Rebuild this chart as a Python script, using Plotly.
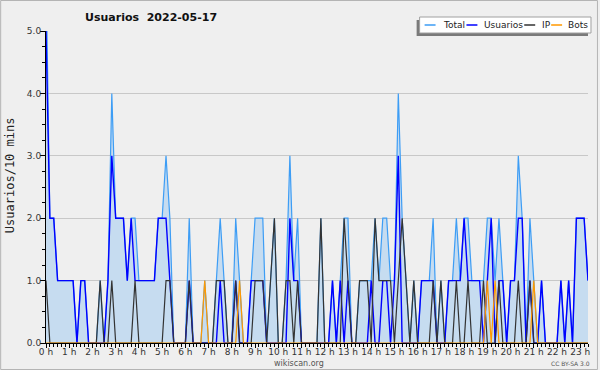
import plotly.graph_objects as go

# 10-minute slots of 2022-05-17 shown so far (0 = 00:00 ... 140 = 23:20)
slots = list(range(141))

usuarios = [5,2,2,1,1,1,1,1,0,1,1,0,
            0,0,0,0,1,3,2,2,2,1,2,1,
            1,1,1,1,1,2,2,2,1,0,0,0,
            0,1,0,0,0,0,0,0,0,1,0,0,
            0,1,0,0,0,1,1,1,1,0,0,0,
            0,0,0,2,1,1,0,0,0,0,0,0,
            0,0,1,0,1,0,1,0,0,0,0,0,
            1,0,0,1,1,0,1,3,0,0,0,0,
            0,1,1,1,1,0,0,0,1,1,1,1,
            2,1,1,1,1,0,1,2,0,1,1,0,
            1,1,2,2,0,1,0,0,1,0,0,0,
            0,1,0,1,0,2,2,2,1]

ip = [1,0,0,0,0,0,0,0,0,0,0,0,
      0,0,1,0,0,1,0,0,0,0,0,1,
      0,0,0,0,0,0,0,1,1,0,0,0,
      0,1,0,0,0,0,0,0,1,1,1,0,
      0,1,0,0,0,0,1,1,1,0,1,2,
      0,0,1,1,0,1,0,0,0,0,0,2,
      0,0,0,0,0,2,1,0,0,1,1,1,
      0,2,1,1,1,1,0,1,2,1,0,1,
      0,0,0,0,1,0,1,0,0,0,1,0,
      0,1,0,0,0,1,0,0,0,1,0,0,
      0,0,1,0,0,1,0,0,0,0,0,0,
      0,0,0,0,0,0,0,0,0]

bots = [0,0,0,0,0,0,0,0,0,0,0,0,
        0,0,0,0,0,0,0,0,0,0,0,0,
        0,0,0,0,0,0,0,0,0,0,0,0,
        0,0,0,0,0,1,0,0,0,0,0,0,
        0,0,1,0,0,0,0,0,0,0,0,0,
        0,0,0,0,0,0,0,0,0,0,0,0,
        0,0,0,0,0,0,0,0,0,0,0,0,
        0,0,0,0,0,0,0,0,0,0,0,0,
        0,0,0,0,0,0,0,0,0,0,0,0,
        0,0,0,0,0,0,1,0,1,0,0,0,
        0,0,0,0,0,0,1,0,0,0,0,0,
        0,0,0,0,0,0,0,0,0]

total = [6,2,2,1,1,1,1,1,0,1,1,0,
         0,0,1,0,1,4,2,2,2,1,2,2,
         1,1,1,1,1,2,2,3,2,0,0,0,
         0,2,0,0,0,1,0,0,1,2,1,0,
         0,2,1,0,0,1,2,2,2,0,1,2,
         0,0,1,3,1,2,0,0,0,0,0,2,
         0,0,1,0,1,2,2,0,0,1,1,1,
         1,2,1,2,2,1,1,4,2,1,0,1,
         0,1,1,1,2,0,1,0,1,1,2,1,
         2,2,1,1,1,1,2,2,1,2,1,0,
         1,1,3,2,0,2,1,0,1,0,0,0,
         0,1,0,1,0,2,2,2,1]

hour_ticks = [0,6,12,18,24,30,36,42,48,54,60,66,72,78,84,90,96,102,108,114,120,126,132,138]
hour_labels = ["0 h","1 h","2 h","3 h","4 h","5 h","6 h","7 h","8 h","9 h","10 h","11 h",
               "12 h","13 h","14 h","15 h","16 h","17 h","18 h","19 h","20 h","21 h","22 h","23 h"]
y_ticks = [0,1,2,3,4,5]
y_labels = ["0.0","1.0","2.0","3.0","4.0","5.0"]

series_names = ["Total", "Usuarios", "IP", "Bots"]
series_colors = ["#3d9df5", "#0000ff", "#333333", "#ff9900"]

W, H = 600, 370
L, R, T, B = 46, 10, 31, 27
PW, PH = W - L - R, H - T - B


def px(x):
    return (x - L) / PW


def py(y):
    return (H - B - y) / PH


fig = go.Figure()
fig.add_trace(go.Scatter(x=slots, y=total, name="Total", mode="lines",
                         line=dict(color=series_colors[0], width=1.2),
                         fill="tozeroy", fillcolor="#c6dcf0"))
fig.add_trace(go.Scatter(x=slots, y=usuarios, name="Usuarios", mode="lines",
                         line=dict(color=series_colors[1], width=1.4)))
fig.add_trace(go.Scatter(x=slots, y=ip, name="IP", mode="lines",
                         line=dict(color=series_colors[2], width=1.2)))
fig.add_trace(go.Scatter(x=slots, y=bots, name="Bots", mode="lines",
                         line=dict(color=series_colors[3], width=1.2)))

font_main = "DejaVu Sans"

fig.update_layout(
    width=W, height=H,
    margin=dict(l=L, r=R, t=T, b=B, pad=0),
    paper_bgcolor="#efefef", plot_bgcolor="#efefef",
    showlegend=False,
    font=dict(family=font_main, size=9, color="#222222"),
    xaxis=dict(range=[0, 140], tickmode="array", tickvals=hour_ticks, ticktext=hour_labels,
               showgrid=False, zeroline=False, showline=True, linecolor="black", linewidth=1,
               ticks="outside", ticklen=4, tickcolor="black", tickfont=dict(size=9, color="#333333"),
               ticklabelstandoff=-4,
               minor=dict(tickmode="linear", tick0=0, dtick=1, ticks="outside", ticklen=3,
                          tickcolor="black", showgrid=False)),
    yaxis=dict(range=[0, 5], tickmode="array", tickvals=y_ticks, ticktext=y_labels,
               showgrid=True, gridcolor="#c8c8c8", gridwidth=1, zeroline=False,
               showline=True, linecolor="black", linewidth=1,
               ticks="outside", ticklen=5, tickcolor="black", tickfont=dict(size=9, color="#333333"),
               ticklabelstandoff=-3,
               minor=dict(tickmode="linear", tick0=0, dtick=0.25, ticks="outside", ticklen=3,
                          tickcolor="black", showgrid=False)),
)

shapes = []
annotations = []

# outer frame
shapes.append(dict(type="rect", xref="paper", yref="paper",
                   x0=px(0.5), x1=px(599.5), y0=py(369.5), y1=py(0.5),
                   line=dict(color="#b4b4b4", width=1), fillcolor="rgba(0,0,0,0)", layer="above"))

# legend box with shadow
lx0, lx1, ly0, ly1 = 421, 593, 17, 33
shapes.append(dict(type="rect", xref="paper", yref="paper",
                   x0=px(lx0 - 3), x1=px(lx1 - 3), y0=py(ly1 + 3), y1=py(ly0 + 3),
                   line=dict(width=0), fillcolor="#7a7a7a", layer="above"))
shapes.append(dict(type="rect", xref="paper", yref="paper",
                   x0=px(lx0), x1=px(lx1), y0=py(ly1), y1=py(ly0),
                   line=dict(color="#a0a0a0", width=1), fillcolor="white", layer="above"))
legend_line_x = [426, 468, 526, 553]
legend_text_x = [442, 484, 542, 568]
ly_mid = (ly0 + ly1) / 2
for name, col, lxs, txs in zip(series_names, series_colors, legend_line_x, legend_text_x):
    shapes.append(dict(type="line", xref="paper", yref="paper",
                       x0=px(lxs), x1=px(lxs + 11), y0=py(ly_mid), y1=py(ly_mid),
                       line=dict(color=col, width=1.5), layer="above"))
    annotations.append(dict(text=name, xref="paper", yref="paper", x=px(txs), y=py(ly_mid),
                            xanchor="left", yanchor="middle", showarrow=False,
                            font=dict(family=font_main, size=9, color="#222222")))

# title
annotations.append(dict(text="<b>Usuarios&nbsp;&nbsp;2022-05-17</b>", xref="paper", yref="paper",
                        x=px(151), y=py(18), xanchor="center", yanchor="middle", showarrow=False,
                        font=dict(family=font_main, size=11, color="#111111")))
# y axis title
annotations.append(dict(text="Usuarios/10 mins", xref="paper", yref="paper",
                        x=px(10), y=py(175), xanchor="center", yanchor="middle", showarrow=False,
                        textangle=-90, font=dict(family="DejaVu Sans Mono", size=12, color="#222222")))
# footer
annotations.append(dict(text="wikiscan.org", xref="paper", yref="paper",
                        x=px(300), y=py(363), xanchor="center", yanchor="middle", showarrow=False,
                        font=dict(family=font_main, size=8, color="#555555")))
annotations.append(dict(text="CC BY-SA 3.0", xref="paper", yref="paper",
                        x=px(572), y=py(363), xanchor="center", yanchor="middle", showarrow=False,
                        font=dict(family=font_main, size=6, color="#555555")))

fig.update_layout(shapes=shapes, annotations=annotations)
fig.write_html("out.html", config={"displayModeBar": False},
               post_script="document.body.style.margin='0px';document.body.style.overflow='hidden';")
